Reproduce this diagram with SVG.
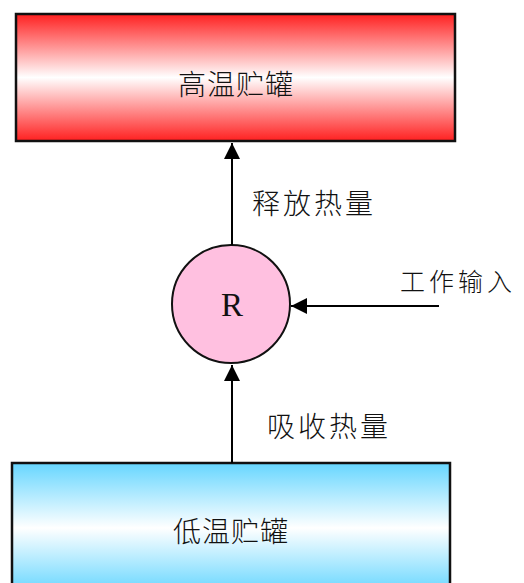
<svg xmlns="http://www.w3.org/2000/svg" width="524" height="583" viewBox="0 0 524 583">
<defs>
<linearGradient id="gRed" x1="0" y1="0" x2="0" y2="1">
<stop offset="0" stop-color="#FF2020"/>
<stop offset="0.5" stop-color="#FFFFFF"/>
<stop offset="1" stop-color="#FF2020"/>
</linearGradient>
<linearGradient id="gBlue" x1="0" y1="0" x2="0" y2="1">
<stop offset="0" stop-color="#66D6FF"/>
<stop offset="0.5" stop-color="#FFFFFF"/>
<stop offset="1" stop-color="#66D6FF"/>
</linearGradient>
<marker id="arr" markerWidth="16" markerHeight="16" viewBox="0 0 16 16" refX="16" refY="8" orient="auto" markerUnits="userSpaceOnUse">
<path d="M0,0 L16,8 L0,16 Z" fill="#000"/>
</marker>
<style>
.box{stroke:#111;stroke-width:2.5}
.lbl{font-family:"Noto Sans CJK SC","Liberation Serif",serif;font-size:28px;fill:#111;font-weight:300}
.small{font-size:25px}
.edge{stroke:#000;stroke-width:2;fill:none}
</style>
</defs>
<g id="hot">
<rect class="box" x="16" y="14" width="439" height="127" fill="url(#gRed)"/>
<text class="lbl" x="236" y="95" text-anchor="middle" letter-spacing="1">高温贮罐</text>
</g>
<g id="cold">
<rect class="box" x="12" y="463" width="438" height="130" fill="url(#gBlue)"/>
<text class="lbl" x="231" y="542" text-anchor="middle" letter-spacing="1">低温贮罐</text>
</g>
<g id="R">
<circle cx="231" cy="304" r="59" fill="#FFC0E0" stroke="#111" stroke-width="2"/>
<text x="232" y="316" text-anchor="middle" font-family="Liberation Serif,serif" font-size="33" fill="#111">R</text>
</g>
<g id="connectors">
<line class="edge" x1="232" y1="245" x2="232" y2="143" marker-end="url(#arr)"/>
<line class="edge" x1="232" y1="463" x2="232" y2="365" marker-end="url(#arr)"/>
<line class="edge" x1="439" y1="306" x2="291" y2="306" marker-end="url(#arr)"/>
</g>
<g id="labels">
<text class="lbl" x="252" y="214" letter-spacing="3">释放热量</text>
<text class="lbl" x="267" y="437" letter-spacing="3">吸收热量</text>
<text class="lbl small" x="400" y="291" letter-spacing="4">工作输入</text>
</g>
</svg>
